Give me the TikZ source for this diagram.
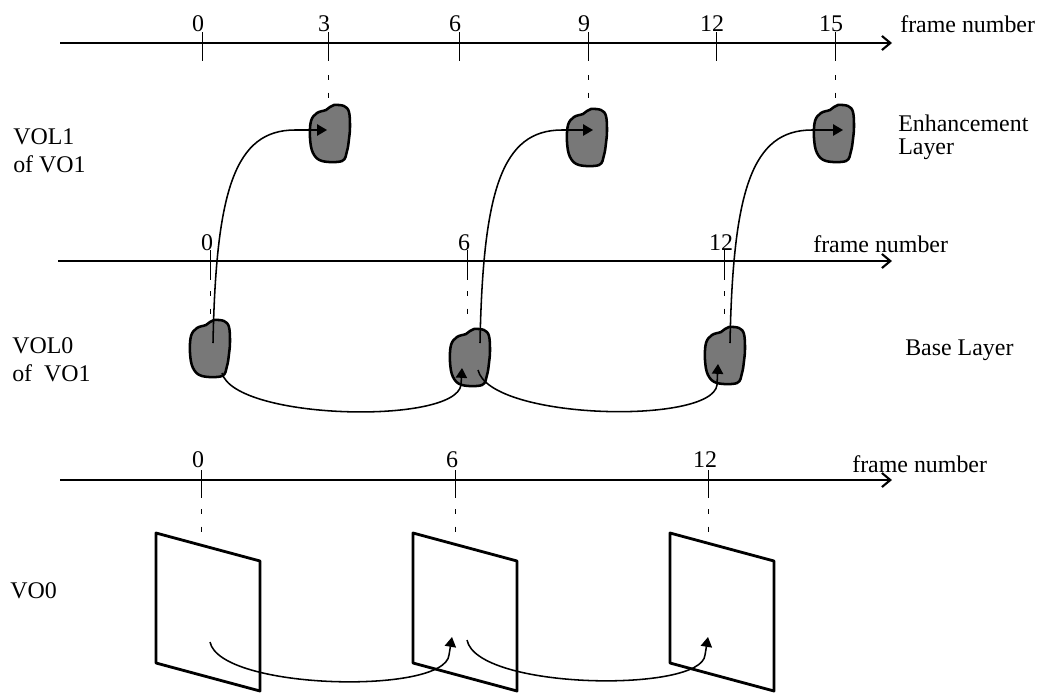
\documentclass[tikz,border=0pt]{standalone}
\usepackage{fontspec}
\setmainfont{Liberation Serif}
\usetikzlibrary{arrows.meta,calc}

\begin{document}
\begin{tikzpicture}[x=0.025cm, y=-0.025cm,
    every node/.style={font=\fontsize{17}{20}\selectfont, inner sep=0pt},
    axis/.style={line width=1.5pt, -{Straight Barb[length=6pt,width=10pt]}},
    tickline/.style={line width=0.6pt},
    guide/.style={line width=0.6pt, dash pattern=on 3.5pt off 9pt},
    link/.style={line width=1.1pt, -{Triangle[length=7pt,width=8pt]}},
    blobline/.style={draw=black, line width=1.8pt, fill=black!53},
    plane/.style={line width=2pt, line join=round},
    blob/.pic={\path[blobline] plot[smooth cycle, tension=0.6] coordinates
        {(0,-26) (4,-28) (14,-27) (19,-21) (20,-6) (19,6) (17,18) (12,28)
         (-8,28) (-17,20) (-20,5) (-19,-12) (-13,-20) (-4,-23)};},
    vopframe/.pic={\draw[plane] (0,0) -- (104,28) -- (104,158) -- (0,130) -- cycle;}]
    \useasboundingbox (0,0) rectangle (1053,693);

    % time axes
    \coordinate (ax1) at (60,43);  \coordinate (ax1end) at (892,43);
    \coordinate (ax2) at (58,261); \coordinate (ax2end) at (892,261);
    \coordinate (ax3) at (60,480); \coordinate (ax3end) at (892,480);
    \draw[axis] (ax1) -- (ax1end);
    \draw[axis] (ax2) -- (ax2end);
    \draw[axis] (ax3) -- (ax3end);

    \foreach \x/\n in {202/0,328/3,459/6,588/9,716/12,835/15}{
        \draw[tickline] (\x,32) -- (\x,61);
        \node[anchor=base] (top\n) at (\x-4,31) {\n};
    }
    \foreach \x in {328,588,835}
        \draw[guide] (\x,75) -- (\x,103);
    \foreach \x/\n in {210/0,467/6,724/12}{
        \draw[tickline] (\x,250) -- (\x,280);
        \draw[guide] (\x,291) -- (\x,322);
        \node[anchor=base] (mid\n) at (\x-3,250) {\n};
    }
    \foreach \x/\n in {201/0,455/6,708/12}{
        \draw[tickline] (\x,470) -- (\x,498);
        \draw[guide] (\x,509) -- (\x,540);
        \node[anchor=base] (bot\n) at (\x-3,467) {\n};
    }

    \node[anchor=base west] (fn1) at (900,32) {frame number};
    \node[anchor=base west] (fn2) at (813,252) {frame number};
    \node[anchor=base west] (fn3) at (852,472) {frame number};

    % layer labels
    \node[anchor=north west, align=left] (vol1) at (13,128) {VOL1\\of VO1};
    \node[anchor=north west, align=left] (vol0) at (12,337) {VOL0\\of~\ VO1};
    \node[anchor=base west] (vo0) at (10,598) {VO0};
    \node[anchor=north west, align=left, font=\fontsize{17}{16}\selectfont] (enh) at (898,115) {Enhancement\\Layer};
    \node[anchor=base west] (base) at (905,355) {Base Layer};

    % video object planes
    \coordinate (e3) at (330,133);  \coordinate (e9) at (587,137);  \coordinate (e15) at (834,133);
    \coordinate (b0) at (210,348);  \coordinate (b6) at (470,357);  \coordinate (b12) at (725,355);
    \coordinate (f0) at (156,533);  \coordinate (f6) at (413,533);  \coordinate (f12) at (670,533);
    \foreach \c in {e3,e9,e15,b0,b6,b12}
        \pic at (\c) {blob};
    \foreach \c in {f0,f6,f12}
        \pic at (\c) {vopframe};

    % prediction
    \draw[link] ($(b0)+(3,-5)$) .. controls +(3,-153) and +(-60,0) .. ($(e3)+(-35,-3)$) -- ($(e3)+(-3,-3)$);
    \draw[link] ($(b6)+(10,-14)$) .. controls +(3,-153) and +(-60,0) .. ($(e9)+(-25,-7)$) -- ($(e9)+(6,-7)$);
    \draw[link] ($(b12)+(5,-12)$) .. controls +(3,-153) and +(-60,0) .. ($(e15)+(-22,-3)$) -- ($(e15)+(9,-3)$);

    \draw[link] ($(b0)+(12,25)$) .. controls +(13,47) and +(-6,40) .. ($(b6)+(-9,28)$) -- ($(b6)+(-8,11)$);
    \draw[link] ($(b6)+(8,13)$) .. controls +(12,50) and +(-5,40) .. ($(b12)+(-8,30)$) -- ($(b12)+(-7,9)$);

    \draw[link] ($(f0)+(54,109)$) .. controls +(10,48) and +(-4,40) .. ($(f6)+(36,122)$) -- ($(f6)+(39,104)$);
    \draw[link] ($(f6)+(54,107)$) .. controls +(10,50) and +(-3,38) .. ($(f12)+(35,122)$) -- ($(f12)+(38,104)$);
\end{tikzpicture}
\end{document}
